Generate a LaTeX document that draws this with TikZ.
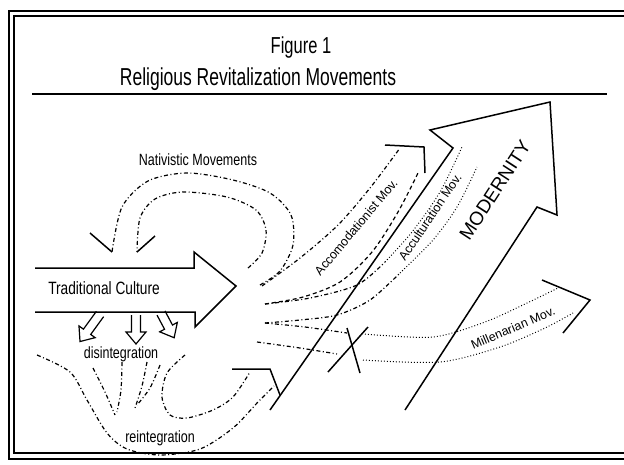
\documentclass[tikz,border=0pt]{standalone}
\usepackage{fontspec}
\setmainfont{Liberation Sans}
\usetikzlibrary{positioning}
\newcommand{\tallt}[1]{\scalebox{1}[1.3]{#1}}
\newcommand{\titlet}[1]{\scalebox{1}[1.4]{#1}}
\tikzset{
  outline/.style={line width=1.5pt, line join=miter},
  movedash/.style={line width=1.2pt, dash pattern=on 4pt off 2.5pt on 1pt off 2.5pt},
  movedashed/.style={line width=1.2pt, dash pattern=on 4pt off 3pt},
  movedot/.style={line width=1pt, dash pattern=on 0.9pt off 2.1pt},
  lbl/.style={font=\fontsize{12.5}{14}\selectfont, inner sep=0pt},
}
\begin{document}
\begin{tikzpicture}[x=1pt,y=-1pt]
  \useasboundingbox (0,0) rectangle (624,464);
  \clip (0,0) rectangle (624,464);
  % double frame
  \draw[line width=2pt] (9,11) rectangle (640,459);
  \draw[line width=1.4pt] (14,16) rectangle (635,453);
  % title
  \node[inner sep=0pt] (fig) at (301,48) {\fontsize{16.5}{18}\selectfont\titlet{Figure 1}};
  \node[inner sep=0pt] (title) at (258,79) {\fontsize{17.5}{19}\selectfont\titlet{Religious Revitalization Movements}};
  \draw[line width=1.4pt] (32,94) -- (607,94);
  % traditional culture
  \draw[outline] (35,268) -- (194,268) -- (194,252) -- (236,286) -- (195,327) -- (195,312) -- (35,312);
  \node[inner sep=0pt] (trad) at (104,288) {\fontsize{13.7}{15}\selectfont\tallt{Traditional Culture}};
  \foreach \px/\py/\a/\l in {100/314/-126/34, 136/315/-90/29, 161/313/-62/28}
    \draw[line width=1.2pt, shift={(\px,\py)}, rotate=\a]
      (0,-4.5) -- (\l-12,-4.5) -- (\l-12,-10) -- (\l,0) -- (\l-12,10) -- (\l-12,4.5) -- (0,4.5);
  \node[lbl] (disint) at (121,354) {\tallt{disintegration}};
  % nativistic movements
  \node[lbl] (nativ) at (198,160) {\tallt{Nativistic Movements}};
  \draw[movedash] plot[smooth] coordinates {(260,285) (280,271) (293,245) (291,215) (270,193) (233,180) (187,173) (148,181) (122,207) (112,252)};
  \draw[outline] (112,252) -- (90,233);
  \draw[movedash] plot[smooth] coordinates {(248,268) (262,253) (266,230) (256,210) (227,197) (183,192) (155,199) (140,218) (137,252)};
  \draw[outline] (137,252) -- (155,236);
  % reintegration
  \node[lbl] (reint) at (160,438) {\tallt{reintegration}};
  \draw[movedash] plot[smooth] coordinates {(37,355) (70,372) (87,400) (107,433) (127,449) (160,455) (200,449) (233,428) (258,402) (274,386)};
  \draw[movedash] plot[smooth] coordinates {(185,355) (167,373) (162,397) (170,415) (187,418) (213,410) (233,397) (250,372)};
  \draw[movedash] plot[smooth] coordinates {(93,368) (105,392) (115,415)};
  \draw[movedash] plot[smooth] coordinates {(122,362) (121,390) (117,412)};
  \draw[movedash] plot[smooth] coordinates {(147,362) (142,386) (135,408)};
  \draw[movedash] plot[smooth] coordinates {(160,365) (150,388) (137,405)};
  \draw[outline] (232,369) -- (270,369) -- (280,395);
  % modernity
  \draw[outline] (270,410) -- (453,148) -- (430,130) -- (550,102) -- (557,215) -- (537,207) -- (405,410);
  \node[inner sep=0pt, rotate=57] (modern) at (495,190) {\fontsize{19}{21}\selectfont MODERNITY};
  % accomodationist
  \draw[movedash] plot[smooth] coordinates {(262,286) (300,258) (338,225) (370,188) (400,148)};
  \draw[movedashed] plot[smooth] coordinates {(265,304) (303,297) (340,282) (372,252) (398,212) (419,171)};
  \draw[outline] (385,145) -- (424,147) -- (425,173);
  \node[lbl, rotate=50] (accom) at (356,227) {Accomodationist Mov.};
  % acculturation
  \draw[movedash] plot[smooth] coordinates {(265,304) (310,298) (357,285) (385,262)};
  \draw[movedot] plot[smooth] coordinates {(385,262) (412,232) (440,192) (462,147)};
  \draw[movedash] plot[smooth] coordinates {(265,323) (300,320) (337,315) (370,300) (400,273)};
  \draw[movedot] plot[smooth] coordinates {(400,273) (433,240) (457,207) (477,167)};
  \node[lbl, rotate=56] (accult) at (430,217) {Acculturation Mov.};
  % millenarian
  \draw[movedash] plot[smooth] coordinates {(265,323) (305,327) (347,333)};
  \draw[movedash] plot[smooth] coordinates {(257,342) (300,348) (337,354)};
  \draw[outline] (328,372) -- (368,327);
  \draw[outline] (347,328) -- (360,373);
  \draw[movedot] plot[smooth] coordinates {(365,334) (433,337) (485,322) (525,304) (558,288)};
  \draw[movedot] plot[smooth] coordinates {(363,360) (440,362) (500,347) (545,328) (573,313)};
  \draw[outline] (542,280) -- (590,300) -- (563,333);
  \node[lbl, rotate=23] (mill) at (513,328) {Millenarian Mov.};
\end{tikzpicture}
\end{document}
